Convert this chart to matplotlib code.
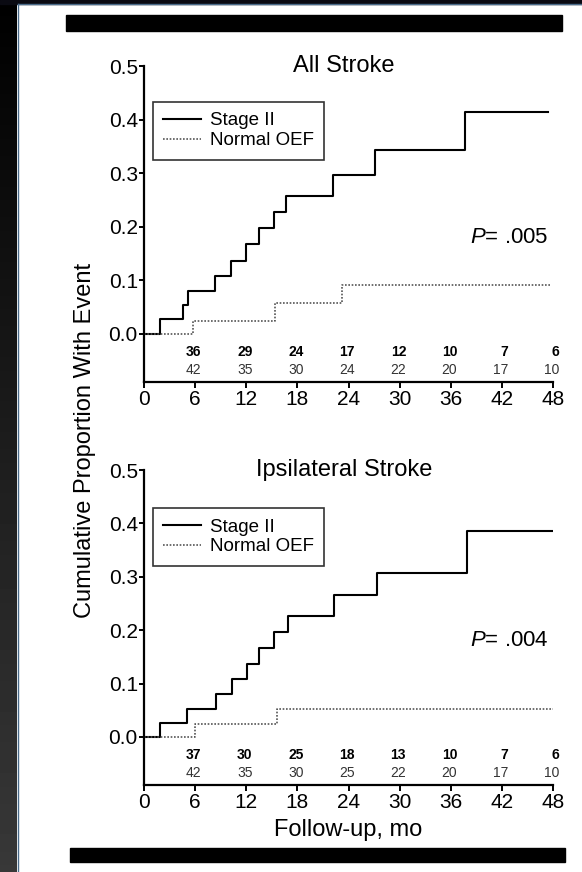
import numpy as np
import matplotlib.pyplot as plt
from matplotlib.patches import Rectangle
from matplotlib.lines import Line2D

plt.rcParams['font.family'] = ['Liberation Sans', 'DejaVu Sans']
plt.rcParams['mathtext.fontset'] = 'custom'
plt.rcParams['mathtext.it'] = 'Liberation Sans:italic'
plt.rcParams['mathtext.rm'] = 'Liberation Sans'

# x axis / risk table months
months = [0, 6, 12, 18, 24, 30, 36, 42, 48]
risk_months = [6, 12, 18, 24, 30, 36, 42, 48]
y_ticks = [0.0, 0.1, 0.2, 0.3, 0.4, 0.5]

# All stroke
all_stage2_t = [0, 1.9, 4.6, 5.2, 8.3, 10.2, 12.0, 13.5, 15.2, 16.7, 22.2, 27.1, 37.7, 47.4]
all_stage2_y = [0, 0.027, 0.054, 0.080, 0.107, 0.135, 0.167, 0.198, 0.228, 0.258, 0.296, 0.343, 0.414, 0.414]
all_normal_t = [0, 5.8, 15.4, 23.2, 47.8]
all_normal_y = [0, 0.024, 0.057, 0.092, 0.092]
all_risk_stage2 = [36, 29, 24, 17, 12, 10, 7, 6]
all_risk_normal = [42, 35, 30, 24, 22, 20, 17, 10]

# Ipsilateral stroke
ips_stage2_t = [0, 1.9, 5.0, 8.4, 10.3, 12.1, 13.5, 15.3, 16.9, 22.3, 27.3, 37.9, 47.9]
ips_stage2_y = [0, 0.027, 0.053, 0.080, 0.109, 0.136, 0.167, 0.197, 0.226, 0.265, 0.308, 0.385, 0.385]
ips_normal_t = [0, 6.0, 15.6, 48]
ips_normal_y = [0, 0.025, 0.052, 0.052]
ips_risk_stage2 = [37, 30, 25, 18, 13, 10, 7, 6]
ips_risk_normal = [42, 35, 30, 25, 22, 20, 17, 10]

W, H = 582, 872


def draw_panel(ax, title, s2_t, s2_y, n_t, n_y, risk_s2, risk_n, ptext, leg_top):
    ax.step(s2_t, s2_y, where='post', color='black', lw=1.5, label='Stage II')
    ax.step(n_t, n_y, where='post', color='#555555', lw=1.2,
            ls=(0, (1, 1)), label='Normal OEF')
    ax.set_xlim(0, 48)
    ax.set_ylim(-0.09, 0.5)
    for s in ['top', 'right']:
        ax.spines[s].set_visible(False)
    for s in ['left', 'bottom']:
        ax.spines[s].set_linewidth(1.6)
    ax.set_xticks(months)
    ax.set_yticks(y_ticks)
    ax.set_yticklabels([f'{v:.1f}' for v in y_ticks])
    ax.tick_params(axis='y', length=3.5, width=1.4, pad=1, labelsize=15)
    ax.tick_params(axis='x', length=4, width=1.4, pad=2, labelsize=15)
    ax.patch.set_alpha(0)

    for x, a, b in zip(risk_months, risk_s2, risk_n):
        ax.text(x + 0.75, -0.034, str(a), ha='right', va='center',
                fontsize=10, fontweight='bold', clip_on=False)
        ax.text(x + 0.75, -0.068, str(b), ha='right', va='center',
                fontsize=10, color='#333333', clip_on=False)

    ax.text(0.489, 1.0, title, transform=ax.transAxes, ha='center',
            va='center', fontsize=17)
    ax.text(47.5, 0.18, ptext, ha='right', va='center', fontsize=16)

    leg = ax.legend(loc='upper left', bbox_to_anchor=(0.022, leg_top),
                    fontsize=13.5, frameon=True, fancybox=False,
                    edgecolor='black', borderpad=0.55, labelspacing=0.15,
                    handlelength=2.0, handletextpad=0.5, borderaxespad=0)
    leg.get_frame().set_linewidth(1.2)


fig = plt.figure(figsize=(W / 100, H / 100), dpi=100)
fig.patch.set_facecolor('white')

left = 144 / W
width = 409 / W
ax1 = fig.add_axes([left, (H - 382) / H, width, 316 / H])
ax2 = fig.add_axes([left, (H - 785) / H, width, 315 / H])

draw_panel(ax1, 'All Stroke', all_stage2_t, all_stage2_y, all_normal_t, all_normal_y,
           all_risk_stage2, all_risk_normal, '$P$= .005', 0.886)
draw_panel(ax2, 'Ipsilateral Stroke', ips_stage2_t, ips_stage2_y, ips_normal_t, ips_normal_y,
           ips_risk_stage2, ips_risk_normal, '$P$= .004', 0.879)

fig.text(85 / W, 1 - 440 / H, 'Cumulative Proportion With Event', rotation=90,
         ha='center', va='center', fontsize=17)
fig.text(348 / W, 1 - 830 / H, 'Follow-up, mo', ha='center', va='center', fontsize=17)

# black rules above and below the figure
fig.patches.append(Rectangle((66 / W, 1 - 31 / H), (562 - 66) / W, 16 / H,
                             transform=fig.transFigure, color='black'))
fig.patches.append(Rectangle((70 / W, 1 - 862 / H), (565 - 70) / W, 14 / H,
                             transform=fig.transFigure, color='black'))

# dark frame at left and top
bg = fig.add_axes([0, 0, 17 / W, 1])
bg.imshow(np.linspace(0, 0.22, 256)[:, None], cmap='gray', vmin=0, vmax=1,
          aspect='auto')
bg.axis('off')
fig.patches.append(Rectangle((0, 1 - 4 / H), 1, 4 / H, transform=fig.transFigure,
                             color='#0a0a12'))
fig.lines.append(Line2D([17.5 / W, 17.5 / W], [0, 1 - 4 / H], transform=fig.transFigure,
                        color='#4a6b8a', lw=1))
fig.lines.append(Line2D([17.5 / W, 1], [1 - 4.5 / H, 1 - 4.5 / H], transform=fig.transFigure,
                        color='#4a6b8a', lw=1))

fig.savefig('out.png', dpi=100)
